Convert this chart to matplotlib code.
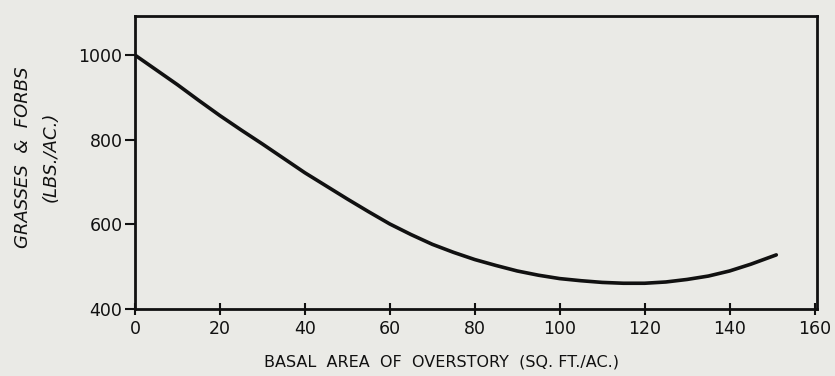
import matplotlib.pyplot as plt

# values
basal_area = [0, 5, 10, 15, 20, 25, 30, 35, 40, 45, 50, 55, 60, 65, 70, 75,
              80, 85, 90, 95, 100, 105, 110, 115, 120, 125, 130, 135, 140, 145, 151]
herbage = [1000, 965, 930, 893, 857, 823, 790, 756, 722, 691, 660, 630, 601, 576, 553, 534,
           517, 503, 490, 480, 472, 467, 463, 461, 461, 464, 470, 478, 490, 506, 528]
x_ticks = [0, 20, 40, 60, 80, 100, 120, 140, 160]
y_ticks = [400, 600, 800, 1000]

bg = '#eaeae6'
ink = '#111111'

fig = plt.figure(figsize=(8.35, 3.76), dpi=100, facecolor=bg)
ax = fig.add_axes([0.1617, 0.178, 0.8163, 0.779], facecolor=bg)

ax.plot(basal_area, herbage, color=ink, lw=2.6, solid_capstyle='round', solid_joinstyle='round')

ax.set_xlim(0, 160.5)
ax.set_ylim(400, 1092)
ax.set_xticks(x_ticks)
ax.set_yticks(y_ticks)
ax.tick_params(axis='x', direction='inout', length=8, width=1.5, colors=ink, labelsize=12.5, pad=4)
ax.tick_params(axis='y', direction='out', length=7, width=1.5, colors=ink, labelsize=12.5, pad=2)
for s in ax.spines.values():
    s.set_linewidth(2)
    s.set_color(ink)

fig.text(0.529, 0.037, 'BASAL  AREA  OF  OVERSTORY  (SQ. FT./AC.)', fontsize=11.5,
         color=ink, ha='center', va='center')
fig.text(0.027, 0.582, 'GRASSES  &  FORBS', rotation=90, style='italic', fontsize=13,
         color=ink, ha='center', va='center')
fig.text(0.061, 0.582, '(LBS./AC.)', rotation=90, style='italic', fontsize=13,
         color=ink, ha='center', va='center')

plt.savefig('out.png', dpi=100, facecolor=bg)
